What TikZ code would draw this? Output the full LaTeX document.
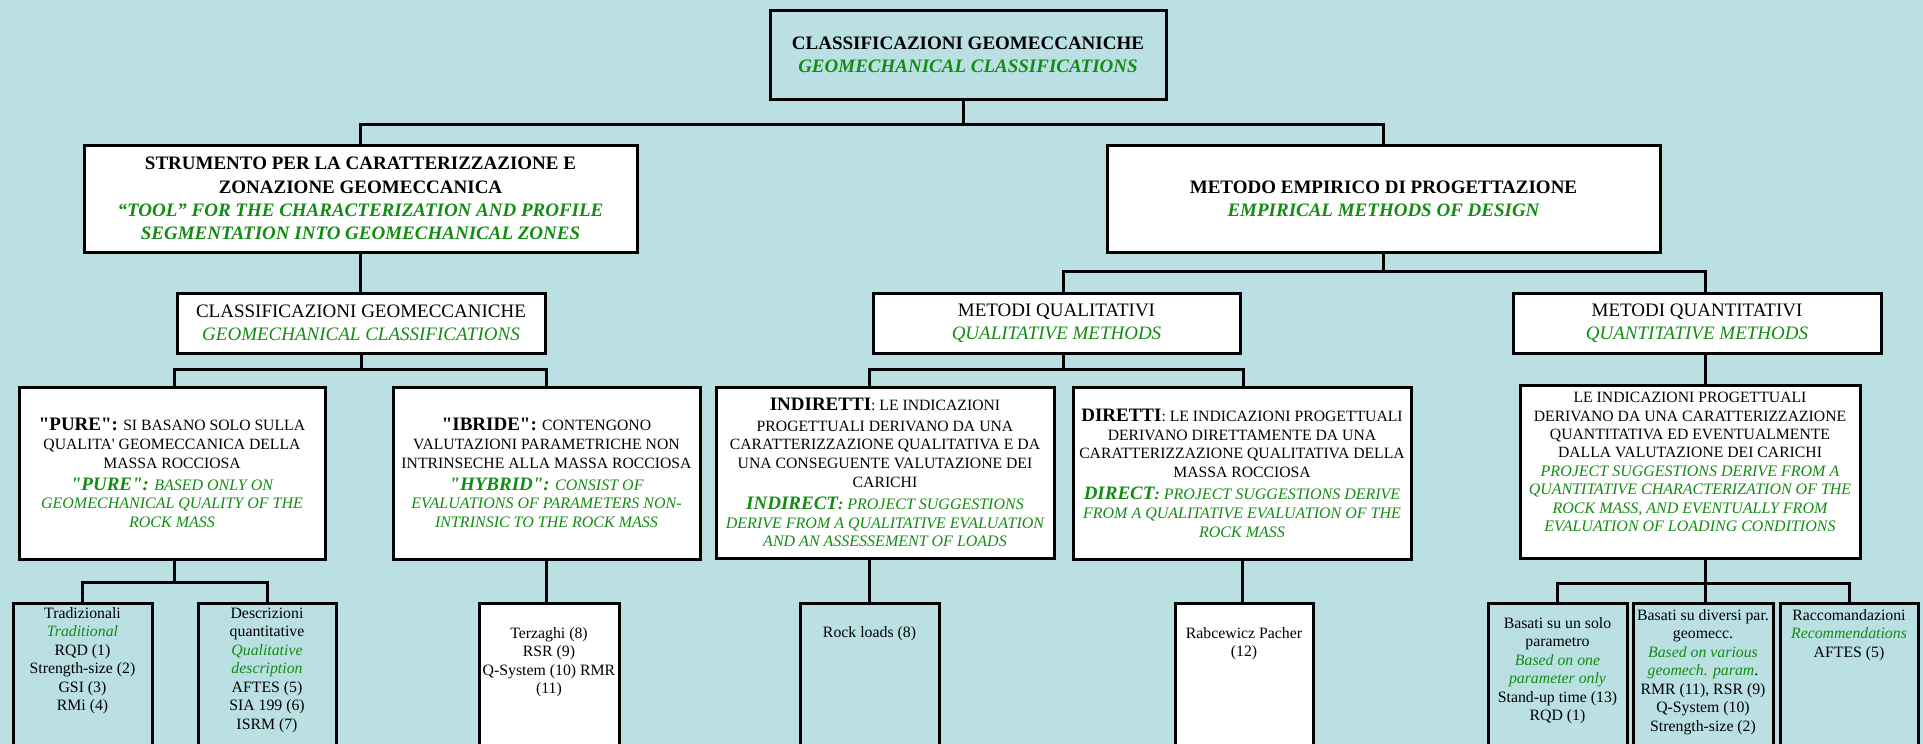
\documentclass[tikz,border=0pt]{standalone}
\usepackage{fontspec}
\setmainfont{Liberation Serif}
\definecolor{bg}{RGB}{186,224,228}
\definecolor{grn}{RGB}{18,140,18}
\font\qB="Liberation Serif/B" at 19pt
\font\qBI="Liberation Serif/BI" at 19pt
\font\qR="Liberation Serif" at 15.7pt
\newcommand{\qb}{{\qB"}}
\newcommand{\qbi}{{\qBI"}}
\newcommand{\apos}{{\qR'}}
\newcommand{\hb}[1]{{\fontsize{19}{19}\selectfont\bfseries #1}}
\newcommand{\hbi}[1]{{\fontsize{19}{19}\selectfont\bfseries\itshape #1}}
\newcommand{\gi}[1]{{\color{grn}\itshape #1}}
\newcommand{\gs}[1]{{\color{grn}\fontsize{16}{16}\selectfont\itshape #1}}
\tikzset{
  box/.style={draw=black, line width=3pt, fill=white, inner sep=0pt, outer sep=0pt, align=center},
  clearbox/.style={box, fill=bg},
  conn/.style={draw=black, line width=3pt},
  fA/.style={font=\fontsize{19}{23.3}\selectfont},
  fAb/.style={font=\fontsize{19}{23.3}\selectfont\bfseries},
  fB/.style={font=\fontsize{15.7}{18.8}\selectfont},
  fQ/.style={font=\fontsize{15.7}{18.4}\selectfont},
  fC/.style={font=\fontsize{15.8}{18.5}\selectfont},
  txt/.style={inner sep=0pt, outer sep=0pt, align=center, anchor=north},
  lvfive/.style={minimum height=157pt},
}
\begin{document}
\begin{tikzpicture}[x=1pt,y=-1pt]
\useasboundingbox (0,0) rectangle (1923,744);
\clip (0,0) rectangle (1923,744);
\fill[bg] (0,0) rectangle (1923,744);

% level 1
\node[clearbox, fAb, minimum width=396pt, minimum height=89pt] (top) at (968,54.5)
  {CLASSIFICAZIONI GEOMECCANICHE\\ \gi{GEOMECHANICAL CLASSIFICATIONS}};

% level 2
\node[box, fAb, minimum width=553pt, minimum height=107pt] (strum) at (360.5,198.5)
  {STRUMENTO PER LA CARATTERIZZAZIONE E\\ ZONAZIONE GEOMECCANICA\\
   \gi{“TOOL” FOR THE CHARACTERIZATION AND PROFILE}\\
   \gi{SEGMENTATION INTO GEOMECHANICAL ZONES}};
\node[box, fAb, minimum width=553pt, minimum height=107pt] (metodo) at (1383.5,198.5)
  {METODO EMPIRICO DI PROGETTAZIONE\\ \gi{EMPIRICAL METHODS OF DESIGN}};

% level 3
\node[box, fA, minimum width=368pt, minimum height=60pt] (cls) at (361,323)
  {CLASSIFICAZIONI GEOMECCANICHE\\ \gi{GEOMECHANICAL CLASSIFICATIONS}};
\node[box, fA, minimum width=367pt, minimum height=60pt] (qual) at (1056.5,323)
  {METODI QUALITATIVI\\ \gi{QUALITATIVE METHODS}};
\node[box, fA, minimum width=368pt, minimum height=60pt] (quant) at (1697,323)
  {METODI QUANTITATIVI\\ \gi{QUANTITATIVE METHODS}};

% level 4
\node[box, fB, minimum width=306pt, minimum height=172pt] (pure) at (172,473)
  {\hb{\qb PURE\qb:} SI BASANO SOLO SULLA\\ QUALITA\apos{} GEOMECCANICA DELLA\\ MASSA ROCCIOSA\\[3pt]
   \gs{\hbi{\qbi PURE\qbi:} BASED ONLY ON}\\ \gs{GEOMECHANICAL QUALITY OF THE}\\ \gs{ROCK MASS}};
\node[box, fB, minimum width=307pt, minimum height=172pt] (ibride) at (546.5,473)
  {\hb{\qb IBRIDE\qb:} CONTENGONO\\ VALUTAZIONI PARAMETRICHE NON\\ INTRINSECHE ALLA MASSA ROCCIOSA\\[3pt]
   \gs{\hbi{\qbi HYBRID\qbi:} CONSIST OF}\\ \gs{EVALUATIONS OF PARAMETERS NON-}\\ \gs{INTRINSIC TO THE ROCK MASS}};
\node[box, fB, minimum width=338pt, minimum height=171pt] (indir) at (885,472.5)
  {\hb{INDIRETTI}: LE INDICAZIONI\\[2pt] PROGETTUALI DERIVANO DA UNA\\ CARATTERIZZAZIONE QUALITATIVA E DA\\
   UNA CONSEGUENTE VALUTAZIONE DEI\\ CARICHI\\[3pt]
   \gs{\hbi{INDIRECT}\textbf{:} PROJECT SUGGESTIONS}\\ \gs{DERIVE FROM A QUALITATIVE EVALUATION}\\
   \gs{AND AN ASSESSEMENT OF LOADS}};
\node[box, fB, minimum width=338pt, minimum height=172pt] (dir) at (1242,473)
  {\hb{DIRETTI}: LE INDICAZIONI PROGETTUALI\\ DERIVANO DIRETTAMENTE DA UNA\\ CARATTERIZZAZIONE QUALITATIVA DELLA\\
   MASSA ROCCIOSA\\[3pt]
   \gs{\hbi{DIRECT}\textbf{:} PROJECT SUGGESTIONS DERIVE}\\ \gs{FROM A QUALITATIVE EVALUATION OF THE}\\
   \gs{ROCK MASS}};
\node[box, minimum width=340pt, minimum height=173pt] (qdesc) at (1690,471.5) {};
\node[txt, fQ, yshift=-4.7pt] (qdesct) at (qdesc.north)
  {\rule{0pt}{13pt}LE INDICAZIONI PROGETTUALI\\ DERIVANO DA UNA CARATTERIZZAZIONE\\ QUANTITATIVA ED EVENTUALMENTE\\
   DALLA VALUTAZIONE DEI CARICHI\\ \gs{PROJECT SUGGESTIONS DERIVE FROM A}\\ \gs{QUANTITATIVE CHARACTERIZATION OF THE}\\
   \gs{ROCK MASS, AND EVENTUALLY FROM}\\ \gs{EVALUATION OF LOADING CONDITIONS}};

% level 5
\node[clearbox, lvfive, minimum width=139pt] (trad) at (82.5,681.5) {};
\node[clearbox, lvfive, minimum width=138pt] (descr) at (267,681.5) {};
\node[box, lvfive, minimum width=140pt] (terz) at (549,681.5) {};
\node[clearbox, lvfive, minimum width=139pt] (rock) at (869.5,681.5) {};
\node[box, lvfive, minimum width=138pt] (rabc) at (1244,681.5) {};
\node[clearbox, lvfive, minimum width=139pt] (bsolo) at (1557.5,681.5) {};
\node[clearbox, lvfive, minimum width=140pt] (bdiv) at (1703,681.5) {};
\node[clearbox, lvfive, minimum width=138pt] (racc) at (1849,681.5) {};

\node[txt, fC, yshift=-2pt] (tradt) at (trad.north)
  {\rule{0pt}{13pt}Tradizionali\\ \gi{Traditional}\\ RQD (1)\\ Strength-size (2)\\ GSI (3)\\ RMi (4)};
\node[txt, fC, yshift=-2pt] (descrt) at (descr.north)
  {\rule{0pt}{13pt}Descrizioni\\ quantitative\\ \gi{Qualitative}\\ \gi{description}\\ AFTES (5)\\ SIA 199 (6)\\ ISRM (7)};
\node[txt, fC, yshift=-22.3pt] (terzt) at (terz.north)
  {\rule{0pt}{13pt}Terzaghi (8)\\ RSR (9)\\ Q-System (10) RMR\\ (11)};
\node[txt, fC, yshift=-21pt] (rockt) at (rock.north)
  {\rule{0pt}{13pt}Rock loads (8)};
\node[txt, fC, yshift=-22pt] (rabct) at (rabc.north)
  {\rule{0pt}{13pt}Rabcewicz Pacher\\ (12)};
\node[txt, fC, yshift=-12pt] (bsolot) at (bsolo.north)
  {\rule{0pt}{13pt}Basati su un solo\\ parametro\\ \gi{Based on one}\\ \gi{parameter only}\\ Stand-up time (13)\\ RQD (1)};
\node[txt, fC, yshift=-4pt] (bdivt) at (bdiv.north)
  {\rule{0pt}{13pt}Basati su diversi par.\\ geomecc.\\ \gi{Based on various}\\ \gi{geomech. param}.\\ RMR (11), RSR (9)\\ Q-System (10)\\ Strength-size (2)};
\node[txt, fC, yshift=-4pt] (racct) at (racc.north)
  {\rule{0pt}{13pt}Raccomandazioni\\ \gi{Recommendations}\\ AFTES (5)};

% connectors
\draw[conn] ([xshift=-5pt]top.south) -- ([xshift=-5pt]top.south |- 0,124);
\draw[conn] (strum.north) -- (strum.north |- 0,124) -- (metodo.north |- 0,124) -- (metodo.north);
\draw[conn] (strum.south) -- (strum.south |- cls.north);
\draw[conn] (metodo.south) -- (metodo.south |- 0,271);
\draw[conn] ([xshift=6.5pt]qual.north) -- ([xshift=6.5pt]qual.north |- 0,271) -- ([xshift=8pt]quant.north |- 0,271) -- ([xshift=8pt]quant.north);
\draw[conn] (cls.south) -- (cls.south |- 0,369);
\draw[conn] ([xshift=2pt]pure.north) -- ([xshift=2pt]pure.north |- 0,369) -- (ibride.north |- 0,369) -- (ibride.north);
\draw[conn] ([xshift=6.5pt]qual.south) -- ([xshift=6.5pt]qual.south |- 0,369);
\draw[conn] ([xshift=-16pt]indir.north) -- ([xshift=-16pt]indir.north |- 0,369) -- ([xshift=1pt]dir.north |- 0,369) -- ([xshift=1pt]dir.north);
\draw[conn] ([xshift=8pt]quant.south) -- ([xshift=15pt]qdesc.north);
\draw[conn] ([xshift=2pt]pure.south) -- ([xshift=2pt]pure.south |- 0,582);
\draw[conn] (trad.north) -- (trad.north |- 0,582) -- (descr.north |- 0,582) -- (descr.north);
\draw[conn] (ibride.south) -- (ibride.south |- terz.north);
\draw[conn] ([xshift=-16pt]indir.south) -- ([xshift=-16pt]indir.south |- rock.north);
\draw[conn] (dir.south) -- (dir.south |- rabc.north);
\draw[conn] ([xshift=15pt]qdesc.south) -- ([xshift=15pt]qdesc.south |- bdiv.north);
\draw[conn] (bsolo.north) -- (bsolo.north |- 0,583) -- (racc.north |- 0,583) -- (racc.north);
\end{tikzpicture}
\end{document}
